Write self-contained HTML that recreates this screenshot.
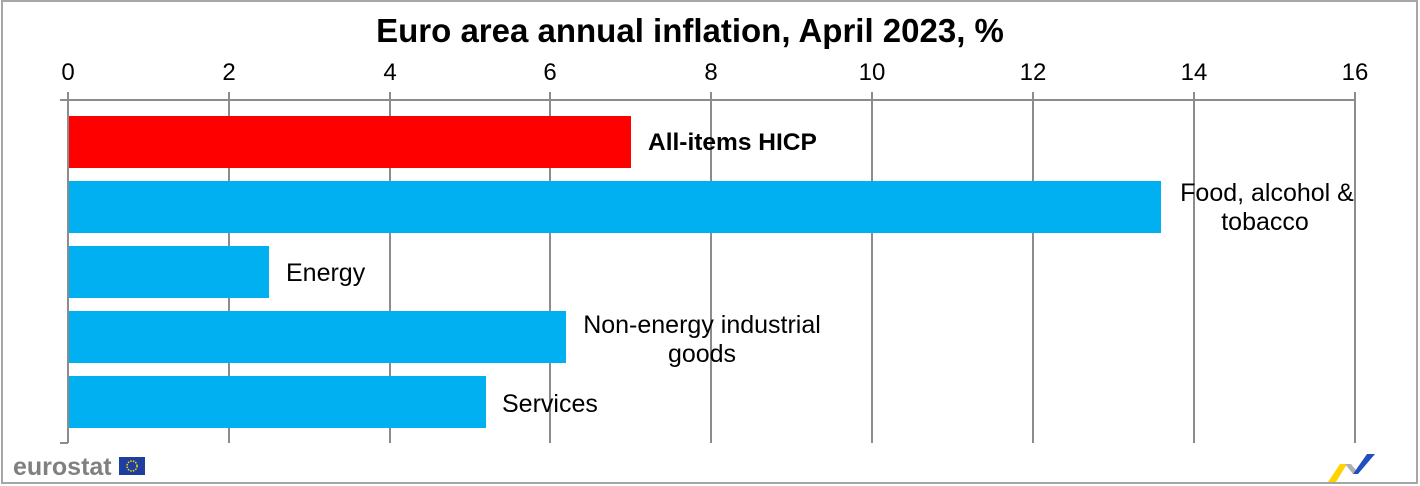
<!DOCTYPE html>
<html><head><meta charset="utf-8"><style>
html,body{margin:0;padding:0;background:#fff;}
svg{display:block;font-family:"Liberation Sans",Arial,sans-serif;}
</style></head><body>
<svg width="1420" height="486" viewBox="0 0 1420 486" xmlns="http://www.w3.org/2000/svg">
<rect x="0" y="0" width="1420" height="486" fill="#fff"/>
<rect x="2" y="1" width="1415" height="482" fill="none" stroke="#a6a6a6" stroke-width="2"/>
<text x="690" y="42" text-anchor="middle" font-size="33" font-weight="bold" fill="#000">Euro area annual inflation, April 2023, %</text>
<g stroke="#8c8c8c" stroke-width="2">
<line x1="60" y1="100" x2="1355" y2="100"/>
<line x1="68" y1="92" x2="68" y2="443"/>
<line x1="229" y1="92" x2="229" y2="443"/>
<line x1="390" y1="92" x2="390" y2="443"/>
<line x1="550" y1="92" x2="550" y2="443"/>
<line x1="711" y1="92" x2="711" y2="443"/>
<line x1="872" y1="92" x2="872" y2="443"/>
<line x1="1033" y1="92" x2="1033" y2="443"/>
<line x1="1194" y1="92" x2="1194" y2="443"/>
<line x1="1355" y1="92" x2="1355" y2="443"/>
<line x1="60" y1="443" x2="68" y2="443"/>
</g>
<g font-size="24" fill="#000" text-anchor="middle">
<text x="68" y="80">0</text><text x="229" y="80">2</text><text x="390" y="80">4</text>
<text x="550" y="80">6</text><text x="711" y="80">8</text><text x="872" y="80">10</text>
<text x="1033" y="80">12</text><text x="1194" y="80">14</text><text x="1355" y="80">16</text>
</g>
<rect x="69" y="116" width="562" height="52" fill="#ff0000"/>
<rect x="69" y="181" width="1092" height="52" fill="#00b0f0"/>
<rect x="69" y="246" width="200" height="52" fill="#00b0f0"/>
<rect x="69" y="311" width="497" height="52" fill="#00b0f0"/>
<rect x="69" y="376" width="417" height="52" fill="#00b0f0"/>
<g font-size="25" fill="#000">
<text x="648" y="150" font-weight="bold" font-size="24.5">All-items HICP</text>
<text x="1267" y="201" text-anchor="middle">Food, alcohol &amp;</text>
<text x="1265" y="230" text-anchor="middle">tobacco</text>
<text x="286" y="281">Energy</text>
<text x="702" y="333" text-anchor="middle">Non-energy industrial</text>
<text x="702" y="362" text-anchor="middle">goods</text>
<text x="502" y="412">Services</text>
</g>
<text x="13" y="475" font-size="25" font-weight="bold" fill="#808080">eurostat</text>
<rect x="119" y="457" width="26" height="18" fill="#1f3f9f"/>
<circle cx="132" cy="466" r="5" fill="none" stroke="#ffd700" stroke-width="1.5" stroke-dasharray="1.5 1.2"/>
<polygon points="1328,482 1340,464 1347,464 1336,482" fill="#ffd200"/>
<polygon points="1345,464 1351,464 1356,470 1353,474" fill="#b0b0b0"/>
<polygon points="1353,474 1367,454 1375,454 1358,474" fill="#1f4fc0"/>
</svg>
</body></html>
